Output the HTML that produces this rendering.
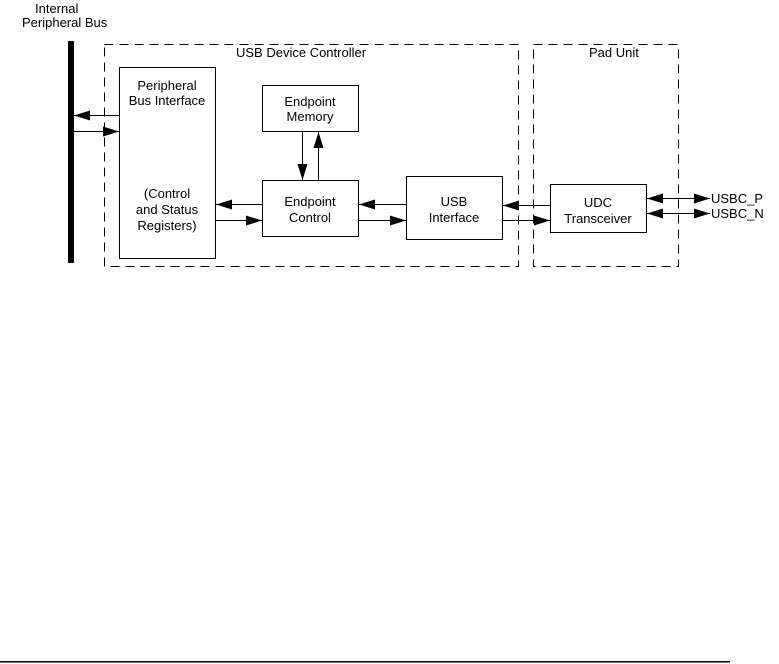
<!DOCTYPE html>
<html><head><style>body{margin:0;background:#fff}svg{display:block}text{font-family:"Liberation Sans",sans-serif;font-size:13px;fill:#000}</style></head>
<body>
<svg width="779" height="664" viewBox="0 0 779 664">
<defs><marker id="a" markerWidth="16" markerHeight="10" refX="16" refY="5" orient="auto" markerUnits="userSpaceOnUse"><path d="M0,0L16,5L0,10z" fill="#000"/></marker></defs>
<text x="35" y="13">Internal</text>
<text x="22" y="27">Peripheral Bus</text>
<rect x="68" y="41" width="6" height="222" fill="#000"/>
<g fill="none" stroke="#000" stroke-dasharray="9,6">
<rect x="104.5" y="44.5" width="414" height="222"/>
<rect x="533.5" y="44.5" width="145" height="222"/>
</g>
<rect x="234" y="46" width="156" height="14" fill="#fff"/>
<text x="236" y="57">USB Device Controller</text>
<rect x="588" y="46" width="56" height="14" fill="#fff"/>
<text x="589" y="57">Pad Unit</text>
<g fill="none" stroke="#000">
<rect x="119.5" y="67.5" width="96" height="191"/>
<rect x="262.5" y="85.5" width="96" height="46"/>
<rect x="262.5" y="180.5" width="96" height="56"/>
<rect x="406.5" y="176.5" width="96" height="63"/>
<rect x="550.5" y="184.5" width="96" height="48"/>
<g marker-end="url(#a)">
<line x1="119" y1="115.5" x2="74" y2="115.5"/>
<line x1="74" y1="131.5" x2="119" y2="131.5"/>
<line x1="262" y1="204.5" x2="216" y2="204.5"/>
<line x1="216" y1="220.5" x2="262" y2="220.5"/>
<line x1="302.5" y1="132" x2="302.5" y2="180"/>
<line x1="318.5" y1="180" x2="318.5" y2="132"/>
<line x1="406" y1="204.5" x2="359" y2="204.5"/>
<line x1="359" y1="220.5" x2="406" y2="220.5"/>
<line x1="550" y1="205.5" x2="503" y2="205.5"/>
<line x1="503" y1="220.5" x2="550" y2="220.5"/>
<line x1="675" y1="198.5" x2="647" y2="198.5"/>
<line x1="675" y1="198.5" x2="710" y2="198.5"/>
<line x1="675" y1="213.5" x2="647" y2="213.5"/>
<line x1="675" y1="213.5" x2="710" y2="213.5"/>
</g>
</g>
<g text-anchor="middle">
<text x="167" y="90">Peripheral</text>
<text x="167" y="105">Bus Interface</text>
<text x="167" y="198">(Control</text>
<text x="167" y="214">and Status</text>
<text x="167" y="230">Registers)</text>
<text x="310" y="106">Endpoint</text>
<text x="310" y="121">Memory</text>
<text x="310" y="206">Endpoint</text>
<text x="310" y="222">Control</text>
<text x="454" y="206">USB</text>
<text x="454" y="222">Interface</text>
<text x="598" y="207">UDC</text>
<text x="598" y="223">Transceiver</text>
</g>
<text x="711" y="203">USBC_P</text>
<text x="711" y="218">USBC_N</text>
<rect x="0" y="661" width="730" height="1.5" fill="#000"/>
</svg>
</body></html>
